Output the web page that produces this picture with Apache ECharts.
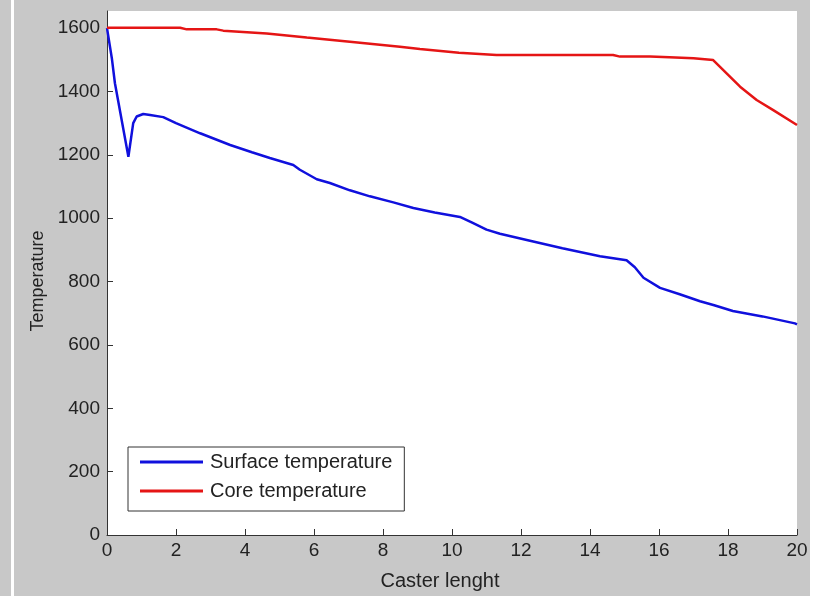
<!DOCTYPE html>
<html><head><meta charset="utf-8">
<script src="https://cdn.jsdelivr.net/npm/echarts@6/dist/echarts.min.js"></script>
<style>html,body{margin:0;padding:0;background:#c8c8c8}#c{width:817px;height:596px}</style>
</head><body><div id="c"></div>
<script>
var xTicks = [0, 2, 4, 6, 8, 10, 12, 14, 16, 18, 20];
var yTicks = [0, 200, 400, 600, 800, 1000, 1200, 1400, 1600];
var surfX = [0, 0.14, 0.23, 0.62, 0.76, 0.86, 1.05, 1.25, 1.63, 2.0, 2.7, 3.57, 4.2, 4.72, 5.4, 5.59, 6.08, 6.46, 7.04, 7.62, 8.3, 8.88, 9.5, 10.23, 10.6, 11.0, 11.39, 12.26, 13.2, 14.29, 15.06, 15.3, 15.55, 16.03, 16.6, 17.19, 17.6, 18.14, 19.0, 19.94, 20];
var surfY = [1600, 1505, 1426, 1194, 1300, 1321, 1329, 1326, 1319, 1300, 1268, 1231, 1208, 1190, 1168, 1153, 1123, 1111, 1088, 1069, 1050, 1032, 1018, 1004, 985, 964, 951, 929, 905, 880, 867, 845, 812, 780, 760, 738, 725, 707, 690, 668, 665];
var coreX = [0, 2.12, 2.31, 3.18, 3.37, 4.63, 5.79, 7.04, 8.49, 9.07, 10.2, 11.29, 14.67, 14.87, 15.74, 16.3, 17.0, 17.57, 17.96, 18.35, 18.83, 19.3, 20];
var coreY = [1601, 1601, 1596, 1596, 1592, 1583, 1570, 1557, 1541, 1534, 1522, 1515, 1515, 1510, 1510, 1508, 1505, 1499, 1457, 1415, 1373, 1342, 1294];
var seriesNames = ['Surface temperature', 'Core temperature'];

function zip(a, b) { return a.map(function (v, i) { return [v, b[i]]; }); }
function plain(v) { return String(v); }

var chart = echarts.init(document.getElementById('c'));
var font = 'Liberation Sans, Arial, sans-serif';
chart.setOption({
  backgroundColor: '#c8c8c8',
  animation: false,
  graphic: [
    { type: 'rect', shape: { x: 11, y: 0, width: 3, height: 596 }, style: { fill: '#ffffff' } },
    { type: 'rect', shape: { x: 810, y: 0, width: 7, height: 596 }, style: { fill: '#ffffff' } }
  ],
  grid: { left: 107, right: 20, top: 11, bottom: 60, show: true, backgroundColor: '#ffffff', borderWidth: 0 },
  legend: {
    orient: 'vertical', left: 128, top: 447,
    padding: [5, 12, 10, 12],
    itemGap: 9, itemWidth: 63, itemHeight: 3,
    icon: 'rect',
    backgroundColor: '#ffffff', borderColor: '#333', borderWidth: 1, borderRadius: 0,
    textStyle: { fontFamily: font, fontSize: 20, color: '#222', lineHeight: 20, padding: [0, 0, 0, 2] },
    data: seriesNames
  },
  xAxis: {
    type: 'value', min: 0, max: 20, interval: 2,
    name: 'Caster lenght', nameLocation: 'middle', nameGap: 36,
    nameTextStyle: { fontFamily: font, fontSize: 20, color: '#222', padding: [0, 24, 0, 0] },
    axisLine: { lineStyle: { color: '#333', width: 1 } },
    axisTick: { inside: true, length: 6, lineStyle: { color: '#333' }, customValues: xTicks },
    axisLabel: { fontFamily: font, fontSize: 19, color: '#222', margin: 6, customValues: xTicks, formatter: plain },
    splitLine: { show: false }
  },
  yAxis: {
    type: 'value', min: 0, max: 1654, interval: 200,
    name: 'Temperature', nameLocation: 'middle', nameGap: 54,
    nameTextStyle: { fontFamily: font, fontSize: 18, color: '#222', padding: [0, 16, 0, 0] },
    axisLine: { show: true, lineStyle: { color: '#333', width: 1 } },
    axisTick: { show: true, inside: true, length: 6, lineStyle: { color: '#333' }, customValues: yTicks },
    axisLabel: { fontFamily: font, fontSize: 19, color: '#222', margin: 7, customValues: yTicks, formatter: plain },
    splitLine: { show: false }
  },
  series: [
    { name: seriesNames[0], type: 'line', data: zip(surfX, surfY), showSymbol: false, symbol: 'none',
      lineStyle: { color: '#1010dd', width: 2.5 }, itemStyle: { color: '#1010dd' } },
    { name: seriesNames[1], type: 'line', data: zip(coreX, coreY), showSymbol: false, symbol: 'none',
      lineStyle: { color: '#e51515', width: 2.5 }, itemStyle: { color: '#e51515' } }
  ]
});
</script></body></html>
